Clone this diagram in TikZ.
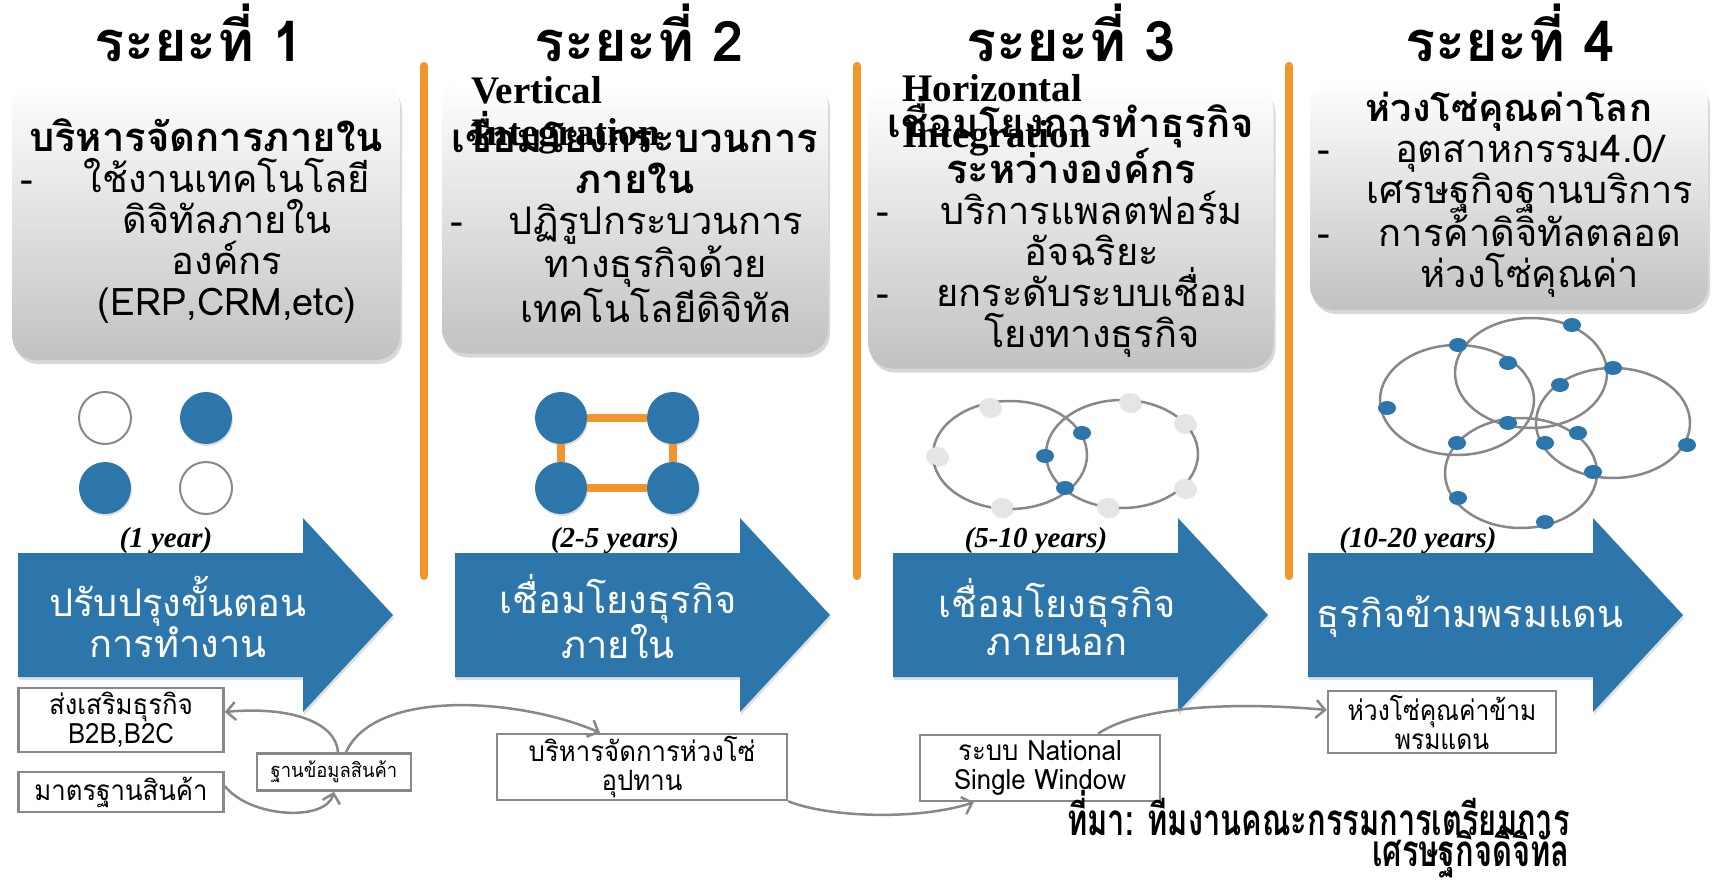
\documentclass[tikz,border=0pt]{standalone}
\usepackage{fontspec}
\setmainfont{Liberation Serif}
\newfontfamily\thai[Script=Thai]{Loma}
\usetikzlibrary{shadows,arrows.meta}
\definecolor{myblue}{RGB}{44,118,172}
\definecolor{myorange}{RGB}{240,150,42}
\definecolor{lgray}{RGB}{136,136,136}
\newcommand\bli[1]{\makebox[\linewidth][s]{\rlap{-}\hspace{42pt}\hfill#1\hfill}}
\newcommand\cli[1]{\makebox[\linewidth][s]{\hspace{42pt}\hfill#1\hfill}}
\newcommand\hd[2][40]{{\bfseries\fontsize{#1}{41}\selectfont #2}}
\newcommand\sq[2][0.92]{\scalebox{#1}[1]{#2}}
\begin{document}
\begin{tikzpicture}[x=1pt,y=-1pt,
  ttl/.style={font=\thai\bfseries\fontsize{56}{60}\selectfont, anchor=base, inner sep=0pt},
  gbox/.style={rounded corners=24pt, top color=white, bottom color=gray!48,
    drop shadow={shadow xshift=2pt, shadow yshift=-4pt, opacity=0.3},
    align=center, font=\thai\fontsize{38}{41}\selectfont, inner sep=0pt},
  integ/.style={font=\bfseries\fontsize{39}{40}\selectfont, anchor=base west, inner sep=0pt},
  oline/.style={myorange, line width=8pt, line cap=round},
  hollow/.style={circle, draw=lgray, line width=2pt, fill=white, minimum size=52pt, inner sep=0pt},
  bdot/.style={circle, fill=myblue, minimum size=52pt, inner sep=0pt, drop shadow={shadow xshift=1pt, shadow yshift=-2pt, opacity=0.25}},
  ring/.style={draw=lgray, line width=2.5pt},
  yr/.style={font=\bfseries\itshape\fontsize{29}{32}\selectfont, inner sep=0pt},
  atext/.style={font=\thai\fontsize{38}{38}\selectfont, text=white, align=center, inner sep=0pt},
  sbox/.style={draw=lgray, line width=2.5pt, fill=white, align=center, inner sep=0pt, font=\thai\fontsize{28}{29}\selectfont},
  conn/.style={draw=lgray, line width=2.5pt, -{Straight Barb[length=9pt,width=18pt]}},
  captxt/.style={font=\thai\bfseries\fontsize{44}{44}\selectfont, anchor=base east, inner sep=0pt}
]
\useasboundingbox (0,0) rectangle (1733,883);
\fill[white] (0,0) rectangle (1733,883);

% titles
\node[ttl] (t1) at (199,62) {ระยะที่ 1};
\node[ttl] (t2) at (639,62) {ระยะที่ 2};
\node[ttl] (t3) at (1071,62) {ระยะที่ 3};
\node[ttl] (t4) at (1510,62) {ระยะที่ 4};

% orange separators
\draw[oline] (424,66) -- (424,576);
\draw[oline] (857,66) -- (857,576);
\draw[oline] (1289,66) -- (1289,576);

% grey boxes
\node[gbox, minimum width=388pt, minimum height=278pt, text width=372pt] (b1) at (206,221)
  {\hd{บริหารจัดการภายใน}\\ \bli{ใช้งานเทคโนโลยี}\\ \cli{ดิจิทัลภายใน}\\ \cli{องค์กร}\\ \cli{(ERP,CRM,etc)}};
\node[gbox, minimum width=386pt, minimum height=273pt, text width=370pt] (b2) at (635,217)
  {\hd{เชื่อมโยงกระบวนการ}\\ \hd{ภายใน}\\ \bli{ปฏิรูปกระบวนการ}\\ \cli{ทางธุรกิจด้วย}\\ \cli{เทคโนโลยีดิจิทัล}};
\node[gbox, minimum width=405pt, minimum height=283pt, text width=390pt] (b3) at (1071,227)
  {\hd{เชื่อมโยงการทำธุรกิจ}\\ \hd{ระหว่างองค์กร}\\ \bli{บริการแพลตฟอร์ม}\\ \cli{อัจฉริยะ}\\ \bli{ยกระดับระบบเชื่อม}\\ \cli{โยงทางธุรกิจ}};
\node[gbox, minimum width=398pt, minimum height=230pt, text width=384pt] (b4) at (1509,195)
  {\hd[38]{ห่วงโซ่คุณค่าโลก}\\ \bli{อุตสาหกรรม4.0/}\\ \cli{เศรษฐกิจฐานบริการ}\\ \bli{การค้าดิจิทัลตลอด}\\ \cli{ห่วงโซ่คุณค่า}};

\node[integ] (v1) at (471,103) {Vertical};
\node[integ] (v2) at (471,145) {Integration};
\node[integ] (h1) at (902,102) {Horizontal};
\node[integ] (h2) at (902,147) {Integration};

% column 1 circles
\node[hollow] (c1) at (105,418) {};
\node[bdot] (c2) at (206,418) {};
\node[bdot] (c3) at (105,488) {};
\node[hollow] (c4) at (206,488) {};

% column 2 square
\node[bdot] (s1) at (561,418) {};
\node[bdot] (s2) at (673,418) {};
\node[bdot] (s3) at (673,488) {};
\node[bdot] (s4) at (561,488) {};
\draw[myorange, line width=8pt] (s1) -- (s2);
\draw[myorange, line width=8pt] (s2) -- (s3);
\draw[myorange, line width=8pt] (s3) -- (s4);
\draw[myorange, line width=8pt] (s4) -- (s1);

% column 3 rings
\draw[ring] (1010,455) ellipse [x radius=77pt, y radius=54pt];
\draw[ring] (1122,454) ellipse [x radius=76pt, y radius=54pt];
\foreach \p in {(990,407),(937,456),(1002,507),(1130,402),(1185,423),(1185,488),(1108,507)}
  \fill[gray!20, drop shadow={shadow xshift=1pt, shadow yshift=-2pt, opacity=0.2}] \p ellipse [x radius=11pt, y radius=9pt];
\foreach \p in {(1082,433),(1045,456),(1065,488)}
  \fill[myblue] \p ellipse [x radius=9pt, y radius=7pt];

% column 4 rings
\draw[ring] (1457,400) ellipse [x radius=77pt, y radius=55pt];
\draw[ring] (1531,373) ellipse [x radius=76pt, y radius=55pt];
\draw[ring] (1613,423) ellipse [x radius=77pt, y radius=55pt];
\draw[ring] (1521,473) ellipse [x radius=76pt, y radius=55pt];
\foreach \p in {(1458,345),(1572,325),(1508,363),(1613,368),(1560,385),(1387,408),(1508,423),(1578,433),(1457,443),(1545,443),(1687,445),(1593,472),(1458,498),(1545,522)}
  \fill[myblue] \p ellipse [x radius=9pt, y radius=7pt];

% year labels
\node[yr] (y1) at (166,541) {(1 year)};
\node[yr] (y2) at (615,541) {(2-5 years)};
\node[yr] (y3) at (1036,541) {(5-10 years)};
\node[yr] (y4) at (1418,541) {(10-20 years)};

% big arrows
\foreach \dx in {18,455,893,1308}
  \fill[myblue, drop shadow={shadow xshift=1pt, shadow yshift=-3pt, opacity=0.25}]
    (\dx,553) -- (\dx+285,553) -- (\dx+285,518) -- (\dx+375,615) -- (\dx+285,712) -- (\dx+285,677) -- (\dx,677) -- cycle;
\node[atext] (a1) at (178,617) {ปรับปรุงขั้นตอน\\การทำงาน};
\node[atext] (a2) at (618,617) {เชื่อมโยงธุรกิจ\\ภายใน};
\node[atext] (a3) at (1057,617) {เชื่อมโยงธุรกิจ\\ภายนอก};
\node[atext] (a4) at (1470,617) {ธุรกิจข้ามพรมแดน};

% bottom boxes
\node[sbox, minimum width=205pt, minimum height=64pt] (A) at (121,720) {\sq{ส่งเสริมธุรกิจ}\\\sq{B2B,B2C}};
\node[sbox, minimum width=205pt, minimum height=40pt] (B) at (121,792) {\sq{มาตรฐานสินค้า}};
\node[sbox, minimum width=154pt, minimum height=37pt, font=\thai\fontsize{20}{22}\selectfont] (C) at (334,772) {\sq{ฐานข้อมูลสินค้า}};
\node[sbox, minimum width=290pt, minimum height=66pt] (D) at (642,767) {\sq{บริหารจัดการห่วงโซ่}\\\sq{อุปทาน}};
\node[sbox, minimum width=240pt, minimum height=66pt] (E) at (1040,768) {\sq{ระบบ National}\\\sq{Single Window}};
\node[sbox, minimum width=228pt, minimum height=62pt] (F) at (1442,722) {\sq[0.88]{ห่วงโซ่คุณค่าข้าม}\\\sq[0.88]{พรมแดน}};

% connectors
\draw[conn] ([xshift=4pt]C.north) .. controls (336,722) and (290,706) .. ([yshift=8pt]A.east);
\draw[conn] ([xshift=12pt]C.north) .. controls (375,688) and (520,698) .. ([xshift=-42pt]D.north);
\draw[conn] ([yshift=6pt]B.east) .. controls (250,818) and (326,822) .. (C.south);
\draw[conn] (D.south east) .. controls (830,818) and (920,820) .. ([xshift=55pt]E.south west);
\draw[conn] ([xshift=58pt]E.north) .. controls (1140,705) and (1240,702) .. ([yshift=12pt]F.west);

% caption
\node[captxt] (cap1) at (1570,835) {\sq[0.7]{ที่มา: ทีมงานคณะกรรมการเตรียมการ}};
\node[captxt] (cap2) at (1570,866) {\sq[0.7]{เศรษฐกิจดิจิทัล}};
\end{tikzpicture}
\end{document}
